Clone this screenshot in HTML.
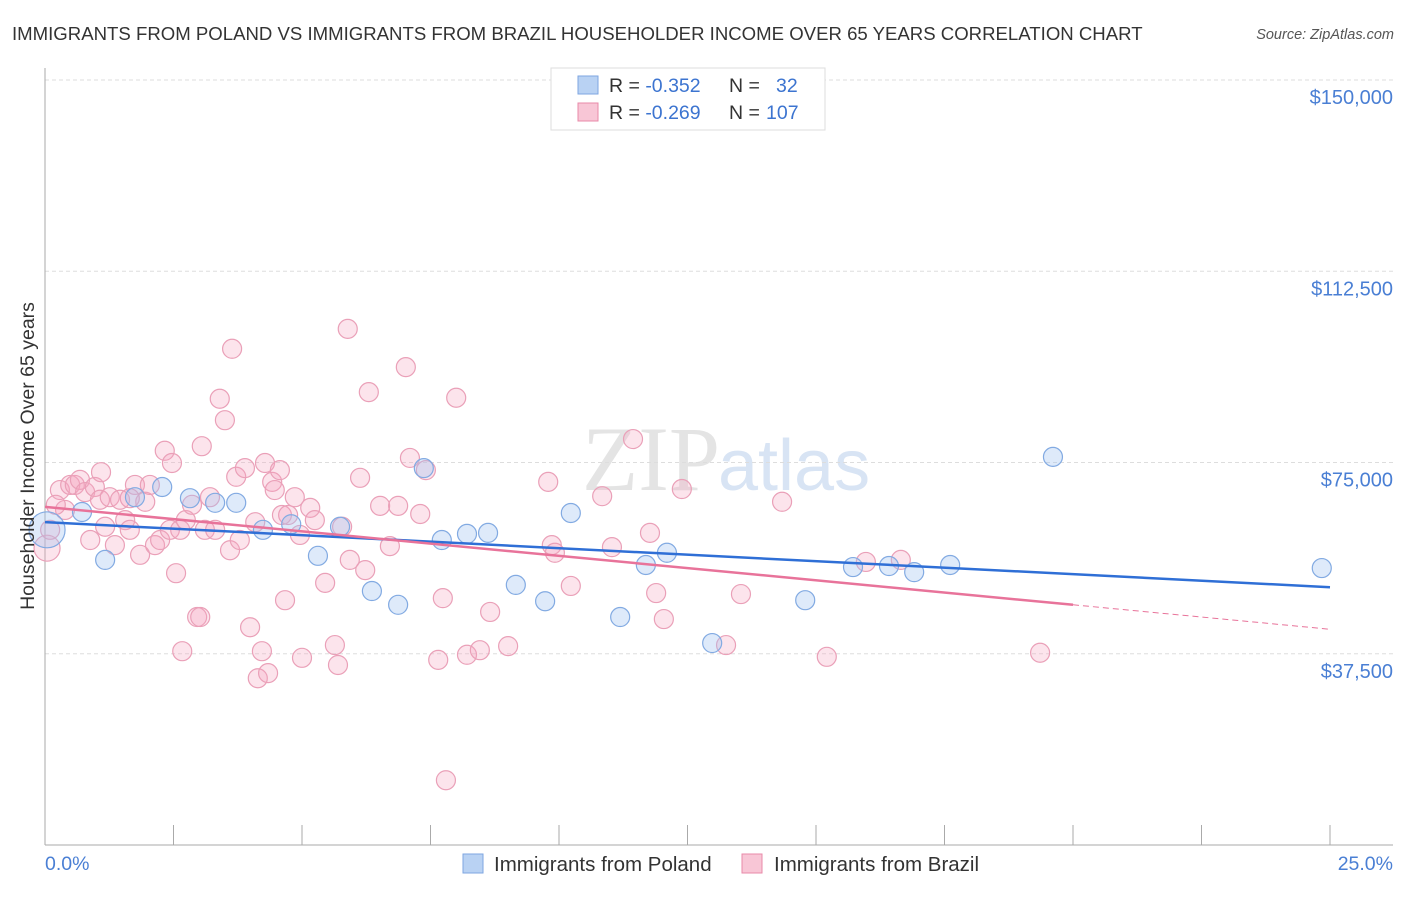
<!DOCTYPE html>
<html><head><meta charset="utf-8"><style>
body{margin:0;background:#fff;font-family:"Liberation Sans",sans-serif}
</style></head><body>
<svg width="1406" height="892" xmlns="http://www.w3.org/2000/svg" font-family="Liberation Sans, sans-serif">
<text x="12" y="40" font-size="18.6" fill="#333">IMMIGRANTS FROM POLAND VS IMMIGRANTS FROM BRAZIL HOUSEHOLDER INCOME OVER 65 YEARS CORRELATION CHART</text>
<text x="1394" y="39" font-size="14.5" fill="#555" font-style="italic" text-anchor="end">Source: ZipAtlas.com</text>
<text x="720" y="490" font-size="92" fill="#e4e4e4" text-anchor="end" font-family="Liberation Serif, serif">ZIP</text>
<text x="718" y="490" font-size="72" fill="#d8e4f4">atlas</text>
<g id="grid"></g><g id="axes"></g><g id="pts"></g><g id="lines"></g>
<text transform="translate(34,456) rotate(-90)" font-size="19.5" fill="#333" text-anchor="middle">Householder Income Over 65 years</text>
<text x="45" y="870" font-size="19.5" fill="#4a7fd4">0.0%</text>
<text x="1393" y="870" font-size="19.5" fill="#4a7fd4" text-anchor="end">25.0%</text>
<g>
<rect x="551" y="68" width="274" height="62" fill="#fff" stroke="#ddd"/>
<rect x="578" y="76" width="20" height="18" fill="#b9d2f3" stroke="#7ea6e0"/>
<rect x="578" y="103" width="20" height="18" fill="#f8c6d6" stroke="#e88aa8"/>
<text x="609" y="92" font-size="19.5" fill="#333">R = <tspan fill="#3c74d0">-0.352</tspan><tspan x="729">N = </tspan><tspan x="776" fill="#3c74d0">32</tspan></text>
<text x="609" y="119" font-size="19.5" fill="#333">R = <tspan fill="#3c74d0">-0.269</tspan><tspan x="729">N = </tspan><tspan x="766" fill="#3c74d0">107</tspan></text>
</g>
<g>
<rect x="463" y="854" width="20" height="19" fill="#b9d2f3" stroke="#7ea6e0"/>
<text x="494" y="871" font-size="20.5" fill="#333">Immigrants from Poland</text>
<rect x="742" y="854" width="20" height="19" fill="#f8c6d6" stroke="#e88aa8"/>
<text x="774" y="871" font-size="20.5" fill="#333">Immigrants from Brazil</text>
</g>
</svg>
<script>
const yTicks=[37500,75000,112500,150000];
const yTickLabels=["$37,500","$75,000","$112,500","$150,000"];
const xTicks=[0,2.5,5,7.5,10,12.5,15,17.5,20,22.5,25];
const polandX=[0.04,0.72,1.17,1.75,2.28,2.82,3.31,3.72,4.24,4.79,5.31,5.74,6.36,6.87,7.37,7.72,8.21,8.62,9.16,9.73,10.23,11.19,11.69,12.10,12.98,14.79,15.72,16.42,16.91,17.61,19.61,24.84];
const polandY=[61.8,65.3,55.9,68.2,70.2,68.0,67.1,67.1,61.8,62.9,56.7,62.4,49.8,47.1,73.9,59.8,61.0,61.2,51.0,47.8,65.1,44.7,54.9,57.3,39.6,48.0,54.5,54.7,53.5,54.9,76.1,54.3];
const brazilX=[0.04,0.10,0.29,0.39,0.49,0.58,0.68,0.78,0.97,1.09,0.88,1.07,1.26,1.36,1.46,1.56,1.65,1.75,1.85,1.95,2.04,2.14,2.24,2.33,2.43,2.47,2.55,2.63,2.67,2.74,2.86,2.96,3.02,3.05,3.11,3.21,3.31,3.40,3.50,3.60,3.64,3.72,3.79,3.89,3.99,4.09,4.14,4.22,4.28,4.34,4.42,4.57,4.61,4.73,4.86,4.96,5.00,5.16,5.25,5.45,5.64,5.70,5.78,5.89,5.93,6.13,6.23,6.30,6.52,6.71,6.87,7.02,7.10,7.30,7.41,7.65,7.74,7.80,8.00,8.21,8.46,8.66,9.01,9.79,9.86,9.92,10.23,10.84,11.03,11.44,11.77,11.89,12.04,12.39,13.25,13.54,14.34,15.21,15.97,16.65,19.36,0.21,1.17,1.65,4.47,4.67];
const brazilY=[58.2,61.8,69.6,65.7,70.6,70.6,71.6,69.2,70.2,73.1,59.8,67.7,68.2,58.8,67.7,63.7,61.8,70.6,56.9,67.3,70.6,58.8,59.8,77.3,61.8,74.9,53.3,61.8,38.0,63.7,66.7,44.7,44.7,78.2,61.8,68.2,61.8,87.5,83.3,57.8,97.3,72.2,59.8,73.9,42.7,63.3,32.7,38.0,74.9,33.7,71.2,73.5,64.7,64.7,68.2,60.8,36.7,66.1,63.7,51.4,39.2,35.3,62.4,101.2,55.9,72.0,53.9,88.8,66.5,58.6,66.5,93.7,75.9,64.9,73.5,36.3,48.4,12.7,87.7,37.3,38.2,45.7,39.0,71.2,58.8,57.3,50.8,68.4,58.4,79.6,61.2,49.4,44.3,69.8,39.2,49.2,67.3,36.9,55.5,55.9,37.7,66.7,62.4,68.0,69.6,48.0];
const polandTrend=[63.3,-0.51];
const brazilTrend=[66.3,-0.96];
const NS="http://www.w3.org/2000/svg";
const X=v=>45+v*51.4;
const Y=v=>845-v*1000/196.08;
function mk(t,a,p){const e=document.createElementNS(NS,t);for(const k in a)e.setAttribute(k,a[k]);document.getElementById(p).appendChild(e);return e;}
yTicks.forEach((t,i)=>{
 const l=mk('line',{x1:45,x2:1393,y1:Y(t/1000),y2:Y(t/1000),stroke:'#ddd','stroke-dasharray':'4,3'},'grid');
 
 
 const tx=mk('text',{x:1393,y:Y(t/1000)+24,'font-size':20,fill:'#4a7fd4','text-anchor':'end'},'grid');
 tx.textContent=yTickLabels[i];
 
 
});
const ax=mk('line',{x1:45,x2:45,y1:68,y2:845,stroke:'#aaa'},'axes');


const bx=mk('line',{x1:45,x2:1393,y1:845,y2:845,stroke:'#aaa'},'axes');


xTicks.forEach(t=>{
 const l=mk('line',{x1:X(t),x2:X(t),y1:825,y2:845,stroke:'#aaa'},'axes');
 
 
});
brazilX.forEach((x,i)=>{
 const c=mk('circle',{cx:X(x),cy:Y(brazilY[i]),r:i==0?13:9.5,fill:'rgba(244,167,193,0.3)',stroke:'#eaa0b8','stroke-width':1.2},'pts');
 
 
});
polandX.forEach((x,i)=>{
 const c=mk('circle',{cx:X(x),cy:Y(polandY[i]),r:i==0?18:9.5,fill:'rgba(160,196,240,0.35)',stroke:'#82aae2','stroke-width':1.2},'pts');
 
 
});
const pl=mk('line',{x1:X(0),y1:Y(polandTrend[0]),x2:X(25),y2:Y(polandTrend[0]+25*polandTrend[1]),stroke:'#2f6fd6','stroke-width':2.5},'lines');


const bl=mk('line',{x1:X(0),y1:Y(brazilTrend[0]),x2:X(20),y2:Y(brazilTrend[0]+20*brazilTrend[1]),stroke:'#e8739a','stroke-width':2.5},'lines');


const bd=mk('line',{x1:X(20),y1:Y(brazilTrend[0]+20*brazilTrend[1]),x2:X(25),y2:Y(brazilTrend[0]+25*brazilTrend[1]),stroke:'#e8739a','stroke-width':1,'stroke-dasharray':'6,4'},'lines');


</script>
</body></html>
